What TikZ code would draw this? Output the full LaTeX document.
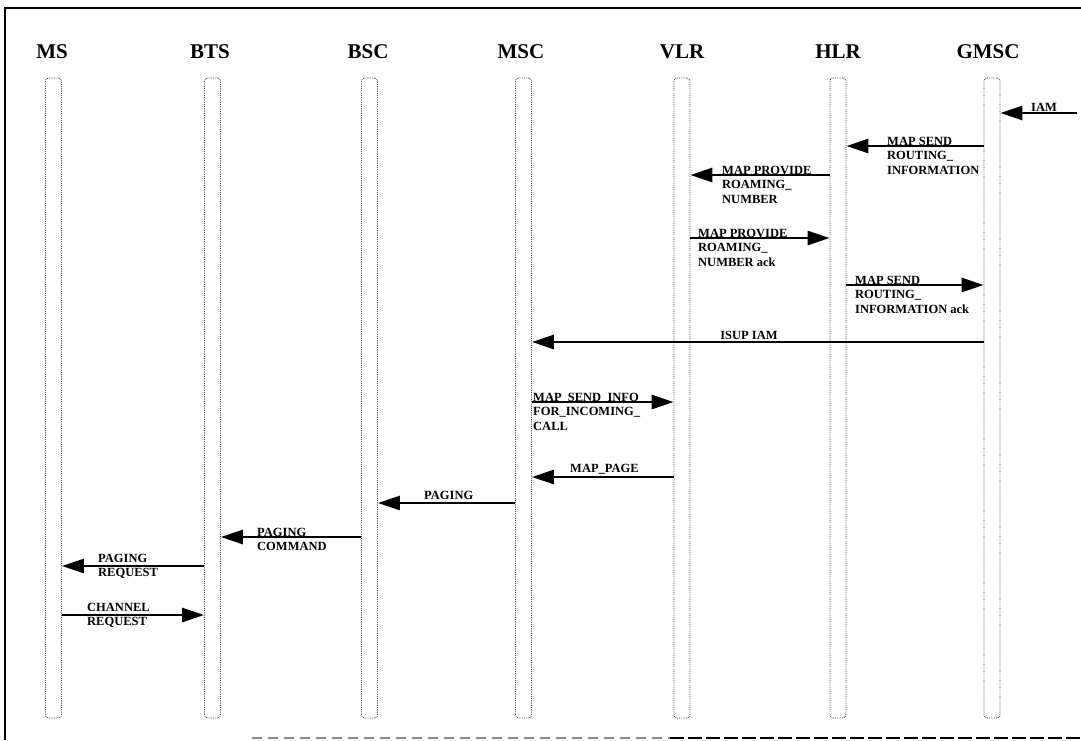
\documentclass[tikz,border=0pt]{standalone}
\usepackage{fontspec}
\setmainfont{Liberation Serif}
\usetikzlibrary{arrows.meta}
\newcommand\mlines[1]{\vtop{\baselineskip=14.5pt\halign{##\hfil\cr#1\crcr}}}
\begin{document}
\begin{tikzpicture}[x=1pt,y=-1pt,
  title/.style={font=\fontsize{21}{25}\selectfont\bfseries,inner sep=0,anchor=base},
  life/.style={draw=black!75,densely dotted,line width=0.8pt,rounded corners=3pt,minimum width=16pt,minimum height=640pt,inner sep=0},
  msg/.style={line width=2.8pt,-{Triangle[length=22pt,width=14pt]}},
  lbl/.style={font=\fontsize{12.5}{15}\selectfont\bfseries,inner sep=0,anchor=base west},
  lblc/.style={font=\fontsize{12.5}{15}\selectfont\bfseries,inner sep=0,anchor=base},
  frame/.style={line width=2.4pt}]
\useasboundingbox (0,0) rectangle (1081,740);
\draw[frame] (5,740) -- (5,8) -- (1081,8);
\draw[frame, black!45, dash pattern=on 10pt off 6pt] (252,738) -- (670,738);
\draw[frame, dash pattern=on 14pt off 4pt] (670,738) -- (1081,738);

% lifelines
\node[life] (ms)   at (53.5,398) {};
\node[life] (bts)  at (212.5,398) {};
\node[life] (bsc)  at (369.5,398) {};
\node[life] (msc)  at (523.5,398) {};
\node[life] (vlr)  at (682,398) {};
\node[life] (hlr)  at (838,398) {};
\node[life] (gmsc) at (992,398) {};

% titles
\node[title] (t-ms)   at (52,58) {MS};
\node[title] (t-bts)  at (210,58) {BTS};
\node[title] (t-bsc)  at (368,58) {BSC};
\node[title] (t-msc)  at (521,58) {MSC};
\node[title] (t-vlr)  at (682,58) {VLR};
\node[title] (t-hlr)  at (838,58) {HLR};
\node[title] (t-gmsc) at (988,58) {GMSC};

% rows
\path (0,113) coordinate (r1) (0,146) coordinate (r2) (0,175) coordinate (r3)
      (0,238) coordinate (r4) (0,285) coordinate (r5) (0,342) coordinate (r6)
      (0,402) coordinate (r7) (0,477) coordinate (r8) (0,503) coordinate (r9)
      (0,537) coordinate (r10) (0,566) coordinate (r11) (0,615) coordinate (r12);
\coordinate (iamin) at (1077,113);

% messages
\draw[msg] (iamin) -- (gmsc.east |- r1);
\draw[msg] (gmsc.west |- r2) -- (hlr.east |- r2);
\draw[msg] (hlr.west |- r3) -- (vlr.east |- r3);
\draw[msg] (vlr.east |- r4) -- (hlr.west |- r4);
\draw[msg] (hlr.east |- r5) -- (gmsc.west |- r5);
\draw[msg] (gmsc.west |- r6) -- (msc.east |- r6);
\draw[msg] (msc.east |- r7) -- (vlr.west |- r7);
\draw[msg] (vlr.west |- r8) -- (msc.east |- r8);
\draw[msg] (msc.west |- r9) -- (bsc.east |- r9);
\draw[msg] (bsc.west |- r10) -- (bts.east |- r10);
\draw[msg] (bts.west |- r11) -- (ms.east |- r11);
\draw[msg] (ms.east |- r12) -- (bts.west |- r12);

% labels
\node[lblc] (l1) at (1044,111) {IAM};
\node[lbl] (l2) at (887,145) {\mlines{MAP SEND\_\cr ROUTING\_\cr INFORMATION}};
\node[lbl] (l3) at (722,174) {\mlines{MAP PROVIDE\_\cr ROAMING\_\cr NUMBER}};
\node[lbl] (l4) at (698,237) {\mlines{MAP PROVIDE\_\cr ROAMING\_\cr NUMBER ack}};
\node[lbl] (l5) at (855,284) {\mlines{MAP SEND\_\cr ROUTING\_\cr INFORMATION ack}};
\node[lblc] (l6) at (749,339) {ISUP IAM};
\node[lbl] (l7) at (533,401) {\mlines{MAP\_SEND\_INFO\_\cr FOR\_INCOMING\_\cr CALL}};
\node[lbl] (l8) at (570,472) {MAP\_PAGE};
\node[lbl] (l9) at (424,499) {PAGING};
\node[lbl] (l10) at (257,536) {\mlines{PAGING\cr COMMAND}};
\node[lbl] (l11) at (98,562) {\mlines{PAGING\cr REQUEST}};
\node[lbl] (l12) at (87,611) {\mlines{CHANNEL\cr REQUEST}};
\end{tikzpicture}
\end{document}
